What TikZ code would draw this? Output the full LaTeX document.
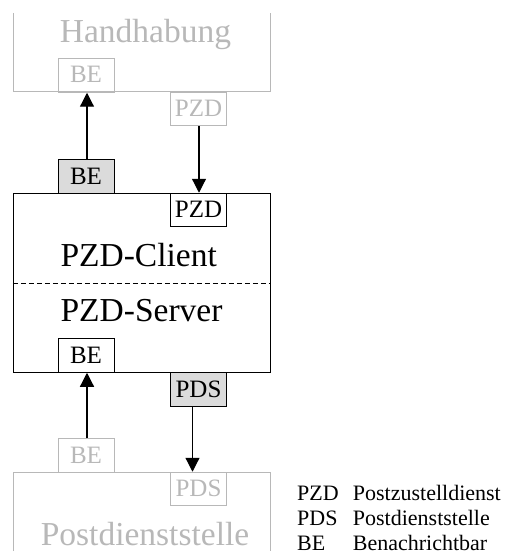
\documentclass[tikz,border=0pt]{standalone}
\usepackage{fontspec}
\setmainfont{Liberation Serif}
\usetikzlibrary{arrows.meta}
\definecolor{pale}{gray}{0.72}
\definecolor{shade}{gray}{0.86}
\begin{document}
\begin{tikzpicture}[x=1pt,y=-1pt,
  big/.style={font=\fontsize{33.5}{40}\selectfont,anchor=base,inner sep=0pt},
  lbl/.style={minimum width=56pt,minimum height=33.5pt,inner sep=0pt,
    font=\fontsize{25}{30}\selectfont,text height=16.5pt,text depth=1.5pt,line width=1pt},
  ghost/.style={lbl,draw=pale,text=pale},
  plain/.style={lbl,draw=black,fill=white},
  filled/.style={lbl,draw=black,fill=shade},
  flow/.style={line width=1.2pt,-{Triangle[length=14pt,width=14pt]}},
  legend/.style={font=\fontsize{22}{26}\selectfont,anchor=base west,inner sep=0pt}]
\useasboundingbox (0,0) rectangle (504,556);

% outer systems (drawn open at the cut edges)
\draw[pale,line width=1pt] (13.3,13) -- (13.3,92) -- (270.7,92) -- (270.7,13);
\node[big,text=pale] (hh) at (145.5,43) {Handhabung};
\draw[pale,line width=1pt] (13.3,551) -- (13.3,472) -- (270.7,472) -- (270.7,551);
\node[big,text=pale] (pds) at (145,545) {Postdienststelle};

% client/server unit
\node[draw,line width=1pt,minimum width=257.4pt,minimum height=178.7pt,inner sep=0pt]
  (unit) at (142,282.65) {};
\draw[line width=1pt,dash pattern=on 5pt off 3pt] (unit.west |- 0,283) -- (unit.east |- 0,283);
\node[big] (client) at (138.7,266.5) {PZD-Client};
\node[big] (server) at (141.5,321.7) {PZD-Server};

% interface boxes
\node[ghost] (beTop) at (86,75.5) {BE};
\node[ghost] (pzdTop) at (198.5,109) {PZD};
\node[filled] (beOut) at (86,176.7) {BE};
\node[plain] (pzdIn) at (198.5,210) {PZD};
\node[plain] (beIn) at (86,355.5) {BE};
\node[filled] (pdsOut) at (198.5,389.5) {PDS};
\node[ghost] (beBot) at (86,455.5) {BE};
\node[ghost] (pdsBot) at (198.5,489) {PDS};

% message flows
\draw[flow] ([xshift=1pt]beOut.north) -- ([xshift=1pt]beTop.south);
\draw[flow] ([xshift=0.5pt]pzdTop.south) -- ([xshift=0.5pt]pzdIn.north);
\draw[flow] ([xshift=1pt]beBot.north) -- ([xshift=1pt]beIn.south);
\draw[flow] ([xshift=-6pt]pdsOut.south) -- ([xshift=-6pt]pdsBot.north);

% abbreviations
\node[legend] (k1) at (297,500.7) {PZD};
\node[legend] (v1) at (352.7,500.7) {Postzustelldienst};
\node[legend] (k2) at (297,525.7) {PDS};
\node[legend] (v2) at (352.7,525.7) {Postdienststelle};
\node[legend] (k3) at (297,550) {BE};
\node[legend] (v3) at (352.7,550) {Benachrichtbar};
\end{tikzpicture}
\end{document}
